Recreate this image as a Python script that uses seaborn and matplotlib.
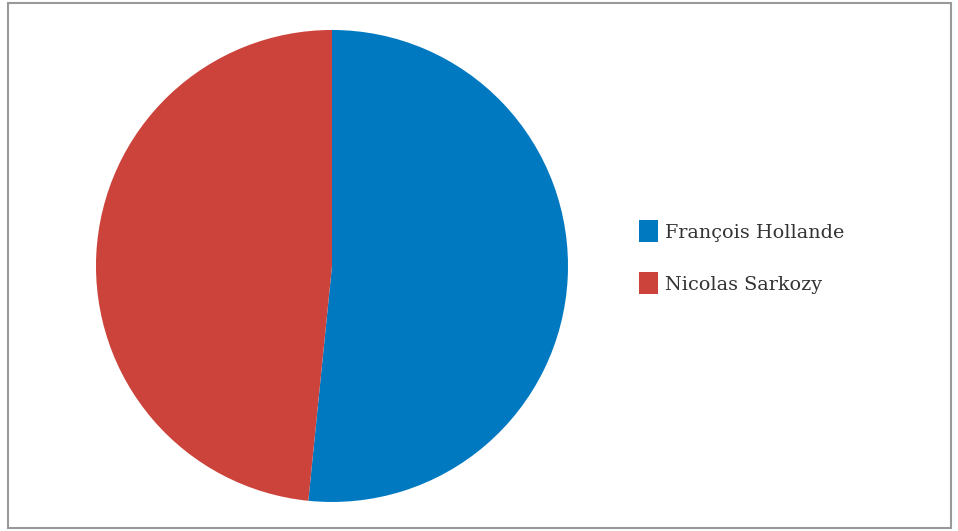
import matplotlib
matplotlib.use("Agg")
import matplotlib.pyplot as plt
import seaborn as sns
from matplotlib.patches import Rectangle, Patch

candidates = ["François Hollande", "Nicolas Sarkozy"]
shares = [51.6, 48.4]
colors = ["#0079C1", "#CC433C"]

sns.set_theme(style="white")
plt.rcParams['font.family'] = ['DejaVu Serif']

fig = plt.figure(figsize=(9.58, 5.31), dpi=100)
ax = fig.add_axes([0.1002, 0.0546, 0.4927, 0.889])
ax.pie(shares, colors=colors, startangle=90, counterclock=False,
       wedgeprops=dict(linewidth=0))
ax.set_xlim(-1, 1)
ax.set_ylim(-1, 1)
ax.set_aspect('equal')
ax.axis('off')

# outer border
fig.patches.append(Rectangle((8/958, 3/531), (951-8)/958, (528-3)/531,
                             transform=fig.transFigure, fill=False,
                             edgecolor="#999999", linewidth=1.5))

handles = [Patch(facecolor=c, edgecolor='none') for c in colors]
fig.legend(handles, candidates, loc='upper left',
           bbox_to_anchor=(622/958, 1 - 203/531), frameon=False,
           fontsize=13.8, handlelength=1.0, handleheight=1.4,
           handletextpad=0.35, labelspacing=1.55, labelcolor="#333333")

fig.savefig("out.png", dpi=100)
